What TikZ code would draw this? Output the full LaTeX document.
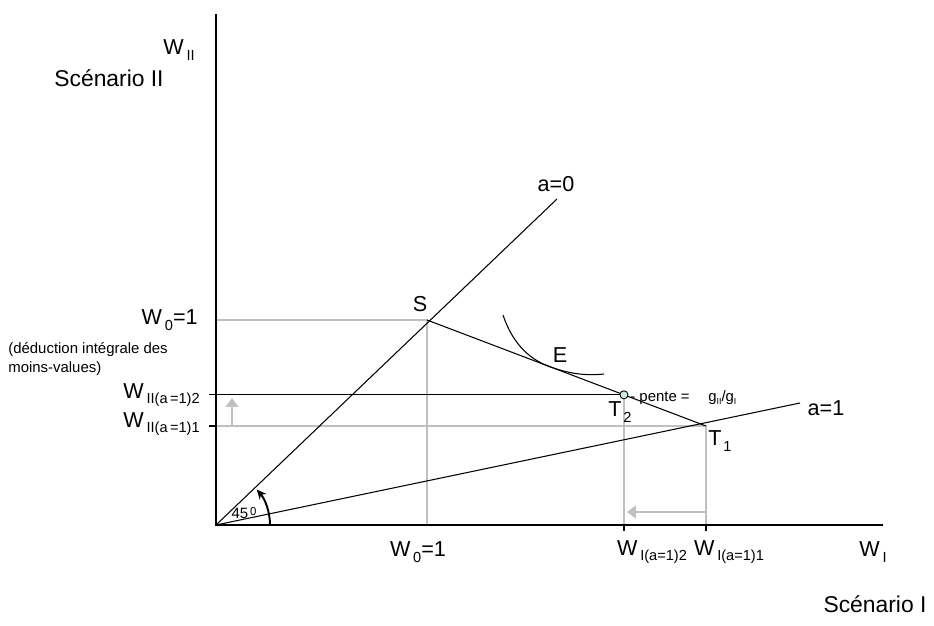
\documentclass[tikz,border=0pt]{standalone}
\usepackage{fontspec}
\setmainfont{Liberation Sans}
\usetikzlibrary{arrows.meta,calc}
\definecolor{guidegray}{RGB}{192,192,192}
\definecolor{ptfill}{RGB}{200,234,230}
\newcommand{\subsz}{\fontsize{8.3}{9}\selectfont}
\newcommand{\Wlab}[1]{W\kern1.6pt\raisebox{-0.5ex}{\subsz #1}}

\begin{document}
\begin{tikzpicture}[x=0.02cm,y=-0.02cm,
    lab/.style={font=\fontsize{12.3}{14}\selectfont,inner sep=0pt},
    scenlab/.style={font=\fontsize{13}{15}\selectfont,inner sep=0pt},
    smalllab/.style={font=\fontsize{8.5}{10.5}\selectfont,inner sep=0pt},
    axisline/.style={line width=0.6pt},
    guide/.style={draw=guidegray,line width=0.6pt},
    guidearrow/.style={draw=guidegray,line width=1.5pt,-{Triangle[length=5pt,width=7pt]}}]
    \useasboundingbox (0,0) rectangle (934,626);

    % Points
    \coordinate (O) at (216,525);
    \coordinate (ytop) at (216,14);
    \coordinate (xend) at (883,525);
    \coordinate (a0end) at (557,199);
    \coordinate (a1end) at (800,403);
    \coordinate (S) at (427,320);
    \coordinate (T1) at (706,426);
    \coordinate (T2) at ($(S)!0.706!(T1)$);
    \coordinate (W0y) at (216,320);
    \coordinate (W0x) at (427,525);
    \coordinate (W2y) at (O |- T2);
    \coordinate (W1y) at (O |- T1);
    \coordinate (W2x) at (T2 |- O);
    \coordinate (W1x) at (T1 |- O);

    % Guides
    \draw[guide] (W0y) -- (S) -- (W0x);
    \draw[guide] (W1y) -- (T1) -- (W1x);
    \draw[guide] (T2) -- (W2x);
    \draw[guidearrow] (232,426) -- (232,398);
    \draw[guidearrow] (706,512) -- (627,512);

    % Axes and lines
    \draw[axisline] (ytop) -- (O) -- (xend);
    \draw[axisline] (O) -- (a0end);
    \draw[axisline] (O) -- (a1end);
    \draw[axisline] (S) -- (T1);
    \draw[axisline] ($(W2y)+(-7,0)$) -- (T2);
    \draw[axisline] ($(W1y)+(-7,0)$) -- (W1y);
    \draw[axisline] (W2x) -- ++(0,6);
    \draw[axisline] (W1x) -- ++(0,6);

    % Indifference curve
    \draw[axisline] (503,315) .. controls (512,342) and (528,358.4) .. (548,366)
        .. controls (568,373.6) and (585,376) .. (604,374);

    % 45 degree arc
    \draw[line width=1.1pt,-{Stealth[length=5.5pt,width=5pt]}] (O) ++(1.08cm,0) arc[start angle=0,end angle=41,radius=1.08cm];

    \node[draw,circle,fill=ptfill,inner sep=0pt,minimum size=4.6pt,line width=0.5pt] (T2dot) at (T2) {};

    % Labels
    \node[lab] (wii) at (179,50) {\Wlab{II}};
    \node[scenlab] (scen2) at (109,78) {Scénario II};
    \node[lab,anchor=east] (w0left) at (198,320) {W\kern1.6pt\raisebox{-0.5ex}{\subsz 0}=1};
    \node[smalllab,align=left,anchor=west] (deduc) at (8,359) {(déduction intégrale des\\moins-values)};
    \node[lab,anchor=east] (w2left) at (200,395) {\Wlab{II(a\,=1)2}};
    \node[lab,anchor=east] (w1left) at (200,424) {\Wlab{II(a\,=1)1}};
    \node[lab] (w0bot) at (418,552) {W\kern1.6pt\raisebox{-0.5ex}{\subsz 0}=1};
    \node[lab] (w2bot) at (652,552) {\Wlab{I(a=1)2}};
    \node[lab] (w1bot) at (729,552) {\Wlab{I(a=1)1}};
    \node[lab] (wi) at (873,552) {\Wlab{I}};
    \node[scenlab] (scen1) at (875,604) {Scénario I};
    \node[lab] (a0) at (556,184) {a=0};
    \node[lab] (a1) at (826,408) {a=1};
    \node[lab] (Slab) at (420,304) {S};
    \node[lab] (Elab) at (560,355) {E};
    \node[lab] (T2lab) at (620,412) {T\kern1pt\raisebox{-0.5ex}{\subsz 2}};
    \node[lab] (T1lab) at (720,441) {T\kern1pt\raisebox{-0.5ex}{\subsz 1}};
    \node[smalllab,anchor=west] (pente) at (630,398) {- pente =};
    \node[smalllab,anchor=west] (ratio) at (708,398) {g\raisebox{-0.3ex}{\fontsize{5}{6}\selectfont II}/g\raisebox{-0.3ex}{\fontsize{5}{6}\selectfont I}};
    \node[smalllab] (deg) at (244,513) {45\kern1pt\raisebox{0.45ex}{\fontsize{6.5}{7}\selectfont 0}};
\end{tikzpicture}
\end{document}
